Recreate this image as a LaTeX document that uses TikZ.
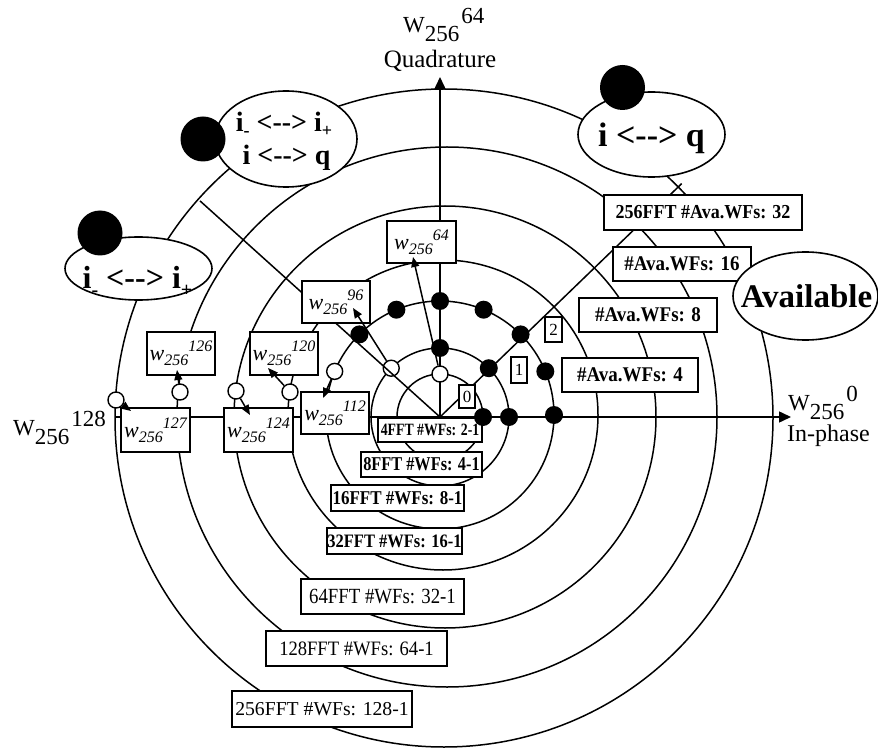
\documentclass[tikz,border=0pt]{standalone}
\usepackage{fontspec}
\setmainfont{Liberation Serif}
\usepackage{graphicx}
\usetikzlibrary{arrows.meta,calc,shapes.geometric}

% font size given directly in points (1pt = one unit of the picture)
\newcommand{\pxfont}[1]{\fontsize{#1}{#1}\selectfont}
% label text: size, vertical stretch, text
\newcommand{\lbl}[3]{{\pxfont{#1}\scalebox{1}[#2]{#3}}}
% italic twiddle factor w_256^k inside a box
\newcommand{\wlab}[1]{\raisebox{4pt}{{\pxfont{22}\itshape w}\raisebox{-5pt}{\pxfont{16}\itshape 256}\raisebox{9pt}{\pxfont{16}\itshape #1}}}
% axis-end twiddle factor W_256^k
\newcommand{\Wlab}[1]{{\pxfont{23}W\raisebox{-9pt}{256}\hspace{2pt}\raisebox{9pt}{#1}}}
% lowered index for i_- and i_+
\newcommand{\isub}[3]{\raisebox{-#2pt}{\pxfont{#3}#1}}

\begin{document}
\begin{tikzpicture}[x=1pt,y=1pt,
  ring/.style={line width=1.5pt},
  axisline/.style={line width=1.5pt,-{Triangle[length=12pt,width=11pt]}},
  ptr/.style={line width=1.5pt,-{Triangle[length=10pt,width=8pt]}},
  lbox/.style={draw,fill=white,line width=1.6pt,inner sep=0pt},
  wbox/.style={lbox,minimum width=68pt,minimum height=43pt},
  nbox/.style={lbox,minimum width=16pt,minimum height=24pt},
  bdot/.style={circle,fill=black,inner sep=0pt,minimum size=18pt},
  wdot/.style={circle,draw,fill=white,line width=1.4pt,inner sep=0pt,minimum size=16pt},
  bigdot/.style={circle,fill=black,inner sep=0pt,minimum size=45pt},
  oval/.style={ellipse,draw,fill=white,line width=1.6pt,inner sep=0pt},
  txt/.style={inner sep=0pt,anchor=base}]
\useasboundingbox (0,0) rectangle (878,-751);

% centres of the unit circles for 4..256 point FFTs
\coordinate (O) at (440,-417);
\coordinate (c4) at (440,-417);
\coordinate (c8) at (440,-417);
\coordinate (c16) at (440,-415);
\coordinate (c32) at (443,-415);
\coordinate (c64) at (445,-417);
\coordinate (c128) at (447,-417);
\coordinate (c256) at (444,-418);

\foreach \c/\r in {c4/43,c8/69,c16/114,c32/155,c64/211,c128/270,c256/329}
  \draw[ring] (\c) circle[radius=\r];

% axes
\coordinate (xl) at (115,-417);
\coordinate (xr) at (791,-417);
\coordinate (yt) at (440,-77);
\draw[axisline] (xl) -- (xr);
\draw[axisline] (O) -- (yt);

% open dots: twiddle factors that are not stored
\node[wdot] (v4) at ($(c4)+(90:43)$) {};
\node[wdot] (v8) at ($(c8)+(135:69)$) {};
\node[wdot] (v16) at ($(c16)+(157.5:114)$) {};
\node[wdot] (v32) at (290,-392) {};
\node[wdot] (v64) at (236,-391) {};
\node[wdot] (v128) at (180,-392) {};
\node[wdot] (v256) at (116,-400) {};

% symmetry lines
\coordinate (ne) at ($(O)+(44:336)$);
\coordinate (nw) at ($(O)+(138:323)$);
\draw[ring] (O) -- (ne);
\draw[ring] (O) -- (nw);

% twiddle factor boxes
\node[wbox,minimum width=69pt,minimum height=42pt] (w64) at (421.5,-242) {\wlab{64}};
\node[wbox,minimum height=42pt] (w96) at (336,-302) {\wlab{96}};
\node[wbox] (w120) at (284,-353.5) {\wlab{120}};
\node[wbox] (w126) at (181,-353.5) {\wlab{126}};
\node[wbox,minimum width=69pt,minimum height=44pt] (w127) at (155.5,-430) {\wlab{127}};
\node[wbox,minimum width=69pt,minimum height=44pt] (w124) at (258.5,-430) {\wlab{124}};
\node[wbox,minimum height=42pt] (w112) at (335,-413) {\wlab{112}};

% stage numbers
\node[nbox,minimum height=23pt] (n0) at (467,-396.5) {\pxfont{17}0};
\node[nbox,minimum height=26pt] (n1) at (519,-370) {\pxfont{17}1};
\node[nbox,minimum width=17pt,minimum height=25pt] (n2) at (553.5,-329.5) {\pxfont{17}2};

% available twiddle factors
\node[lbox,minimum width=198pt,minimum height=35pt] (a32) at (703,-212.5) {\lbl{18}{1.1}{\bfseries 256FFT \#Ava.WFs: 32}};
\node[lbox,minimum width=138pt,minimum height=34pt] (a16) at (682,-264) {\lbl{19}{1.1}{\bfseries \#Ava.WFs: 16}};
\node[lbox,minimum width=138pt,minimum height=34pt] (a8) at (648,-315) {\lbl{19}{1.1}{\bfseries \#Ava.WFs: 8}};
\node[lbox,minimum width=136pt,minimum height=34pt] (a4) at (630,-375) {\lbl{19}{1.1}{\bfseries \#Ava.WFs: 4}};

% required twiddle factors per FFT size
\node[lbox,minimum width=104pt,minimum height=24pt] (f4) at (430,-430) {\lbl{13.8}{1.25}{\bfseries 4FFT \#WFs: 2-1}};
\node[lbox,minimum width=121pt,minimum height=25pt] (f8) at (421.5,-464.5) {\lbl{16.3}{1.2}{\bfseries 8FFT \#WFs: 4-1}};
\node[lbox,minimum width=133pt,minimum height=26pt] (f16) at (397.5,-498) {\lbl{17}{1.15}{\bfseries 16FFT \#WFs: 8-1}};
\node[lbox,minimum width=135pt,minimum height=26pt] (f32) at (394.5,-541) {\lbl{16.5}{1.15}{\bfseries 32FFT \#WFs: 16-1}};
\node[lbox,minimum width=163pt,minimum height=35pt] (f64) at (382.5,-596.5) {\lbl{18.8}{1.15}{64FFT \#WFs: 32-1}};
\node[lbox,minimum width=181pt,minimum height=35pt] (f128) at (356.5,-648.5) {\lbl{18.6}{1.1}{128FFT \#WFs: 64-1}};
\node[lbox,minimum width=180pt,minimum height=36pt] (f256) at (322,-709) {\lbl{19.7}{1.0}{256FFT \#WFs: 128-1}};

% stored twiddle factors
\node[bdot] (b4) at ($(c4)+(0:43)$) {};
\foreach \a [count=\i] in {0,45,90}
  \node[bdot] (b8-\i) at ($(c8)+(\a:69)$) {};
\foreach \a [count=\i] in {0,22.5,45,67.5,90,112.5,135}
  \node[bdot] (b16-\i) at ($(c16)+(\a:114)$) {};

% mapping of derived factors onto their boxes
\coordinate (t64) at (413,-257);
\coordinate (t96) at (353,-308);
\coordinate (t112) at (323,-398);
\coordinate (t120) at (268,-368);
\coordinate (t124) at (250,-415);
\coordinate (t126) at (177,-370);
\coordinate (t127) at (131,-411);
\draw[ptr] (v4) -- (t64);
\draw[ptr] (v8) -- (t96);
\draw[ptr] (v16) -- (t112);
\draw[ptr] (v32) -- (t120);
\draw[ptr] (v64) -- (t124);
\draw[ptr] (v128) -- (t126);
\draw[ptr] (v256) -- (t127);

% axis labels
\node[inner sep=0pt,anchor=base west] (lq) at (403,-33) {\Wlab{64}};
\node[txt] (quad) at (440,-68) {\pxfont{25}Quadrature};
\node[inner sep=0pt,anchor=base west] (li) at (788,-410) {\Wlab{0}};
\node[inner sep=0pt,anchor=base west] (inph) at (787,-441) {\pxfont{24}In-phase};
\node[inner sep=0pt,anchor=base west] (lm) at (13,-435) {\Wlab{128}};

% symmetry ovals
\node[oval,minimum width=142pt,minimum height=96pt] (e1) at (286,-139) {};
\node[bigdot] (e1d) at (203,-139) {};
\node[txt] (e1a) at (284,-132) {\pxfont{28}\bfseries i\isub{-}{5}{18} <-{}-> i\isub{+}{5}{18}};
\node[txt] (e1b) at (286.5,-165) {\pxfont{28}\bfseries i <-{}-> q};

\node[oval,minimum width=147pt,minimum height=63pt] (e2) at (138.5,-268.5) {};
\node[bigdot] (e2d) at (100,-233) {};
\node[txt] (e2a) at (137.5,-289) {\pxfont{32}\bfseries i\isub{-}{8}{20} <-{}-> i\isub{+}{8}{20}};

\node[oval,minimum width=147pt,minimum height=85pt] (e3) at (651.5,-134.5) {};
\node[bigdot] (e3d) at (622.5,-87.5) {};
\node[txt] (e3a) at (651.5,-147) {\pxfont{34}\bfseries i <-{}-> q};

\node[oval,minimum width=145pt,minimum height=88pt] (e4) at (805.5,-296) {};
\node[txt] (e4a) at (806.5,-308) {\pxfont{33}\bfseries Available};
\end{tikzpicture}
\end{document}
